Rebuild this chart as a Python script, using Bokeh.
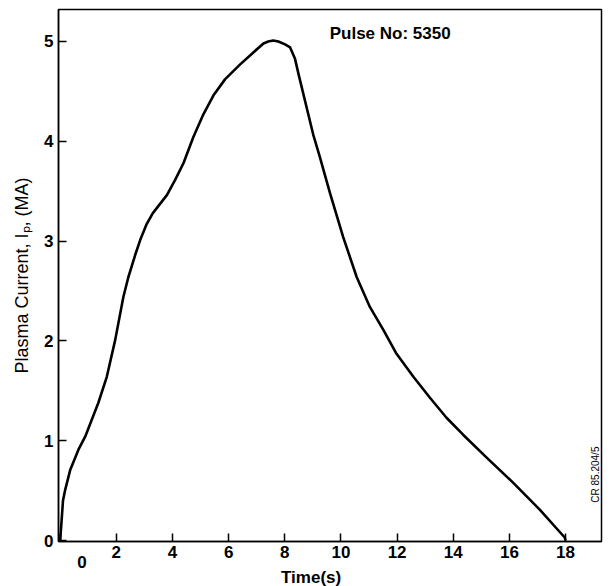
from bokeh.plotting import figure
from bokeh.models import Range1d, FixedTicker, Label, LinearAxis
from bokeh.embed import file_html
from bokeh.resources import INLINE

# Data
time_s = [0.0, 0.05, 0.10, 0.18, 0.36, 0.65, 0.89, 1.36, 1.66, 1.96, 2.25, 2.43, 2.67, 2.85,
          3.08, 3.30, 3.55, 3.80, 4.09, 4.39, 4.74, 5.10, 5.46, 5.87, 6.41, 6.88, 7.24, 7.41,
          7.59, 7.77, 8.01, 8.19, 8.36, 8.50, 9.01, 9.25, 9.61, 10.08, 10.56, 11.03, 11.51,
          11.98, 12.58, 13.17, 13.76, 14.35, 15.19, 16.13, 17.08, 17.97, 18.0]
current_MA = [0.0, 0.20, 0.40, 0.51, 0.71, 0.91, 1.04, 1.38, 1.64, 2.01, 2.44, 2.64, 2.86, 3.01,
              3.17, 3.28, 3.37, 3.46, 3.61, 3.78, 4.04, 4.27, 4.46, 4.62, 4.77, 4.89, 4.98, 5.0,
              5.01, 5.0, 4.97, 4.94, 4.83, 4.66, 4.07, 3.84, 3.48, 3.04, 2.64, 2.34, 2.11,
              1.87, 1.64, 1.43, 1.23, 1.06, 0.83, 0.58, 0.31, 0.03, 0.0]
x_ticks = [0, 2, 4, 6, 8, 10, 12, 14, 16, 18]
y_ticks = [0, 1, 2, 3, 4, 5]
title_text = "Pulse No: 5350"
x_label = "Time(s)"
y_label = "Plasma Current, I\u209a, (MA)"
ref_text = "CR 85.204/5"
zero_label = "0"

FONT = "Liberation Sans"
ZERO_POS = 0.78  # where the stray "0" time label sits

p = figure(frame_width=543, frame_height=532, output_backend="svg", toolbar_location=None,
           x_range=Range1d(-0.06, 19.28), y_range=Range1d(-0.01, 5.32),
           min_border_left=58, min_border_right=4, min_border_top=9, min_border_bottom=0)
p.grid.visible = False
p.outline_line_color = "black"
p.outline_line_width = 1.5
p.background_fill_color = "white"
p.border_fill_color = "white"

p.line(time_s, current_MA, line_color="black", line_width=2.6, line_join="round")

for ax in (p.xaxis[0], p.yaxis[0]):
    ax.axis_line_color = "black"
    ax.axis_line_width = 1.5
    ax.major_tick_line_color = "black"
    ax.major_tick_line_width = 1.5
    ax.major_tick_in = 8
    ax.major_tick_out = 0
    ax.minor_tick_line_color = None
    ax.major_label_text_font = FONT
    ax.major_label_text_font_style = "bold"
    ax.major_label_text_font_size = "17px"
    ax.major_label_text_color = "black"

p.xaxis.ticker = FixedTicker(ticks=x_ticks)
p.xaxis.major_label_overrides = {0: ""}
p.xaxis.major_label_standoff = 4
p.yaxis.ticker = FixedTicker(ticks=y_ticks)
p.yaxis.major_label_standoff = 5

p.yaxis.axis_label = y_label
p.yaxis.axis_label_text_font = FONT
p.yaxis.axis_label_text_font_style = "normal"
p.yaxis.axis_label_text_font_size = "18px"
p.yaxis.axis_label_text_color = "black"
p.yaxis.axis_label_standoff = 9

# second, line-less axis carrying the offset "0" label and the axis title
ax2 = LinearAxis(ticker=FixedTicker(ticks=[ZERO_POS]), major_label_overrides={ZERO_POS: zero_label},
                 axis_line_color=None, major_tick_line_color=None, minor_tick_line_color=None,
                 major_tick_in=0, major_tick_out=0, major_label_standoff=-5,
                 major_label_text_font=FONT, major_label_text_font_style="bold",
                 major_label_text_font_size="17px", major_label_text_color="black",
                 axis_label=x_label + "\u00a0" * 8, axis_label_standoff=-3,
                 axis_label_text_font=FONT, axis_label_text_font_style="bold",
                 axis_label_text_font_size="17px", axis_label_text_color="black")
p.add_layout(ax2, "below")

p.add_layout(Label(x=9.6, y=5.08, text=title_text, text_font=FONT, text_font_style="bold",
                   text_font_size="17px", text_align="left", text_baseline="middle",
                   text_color="black"))
p.add_layout(Label(x=19.06, y=0.66, text=ref_text, text_font=FONT, text_font_style="normal",
                   text_font_size="10px", text_align="center", text_baseline="middle",
                   angle=1.5708, text_color="black"))

open("out.html", "w").write(file_html(p, INLINE))
